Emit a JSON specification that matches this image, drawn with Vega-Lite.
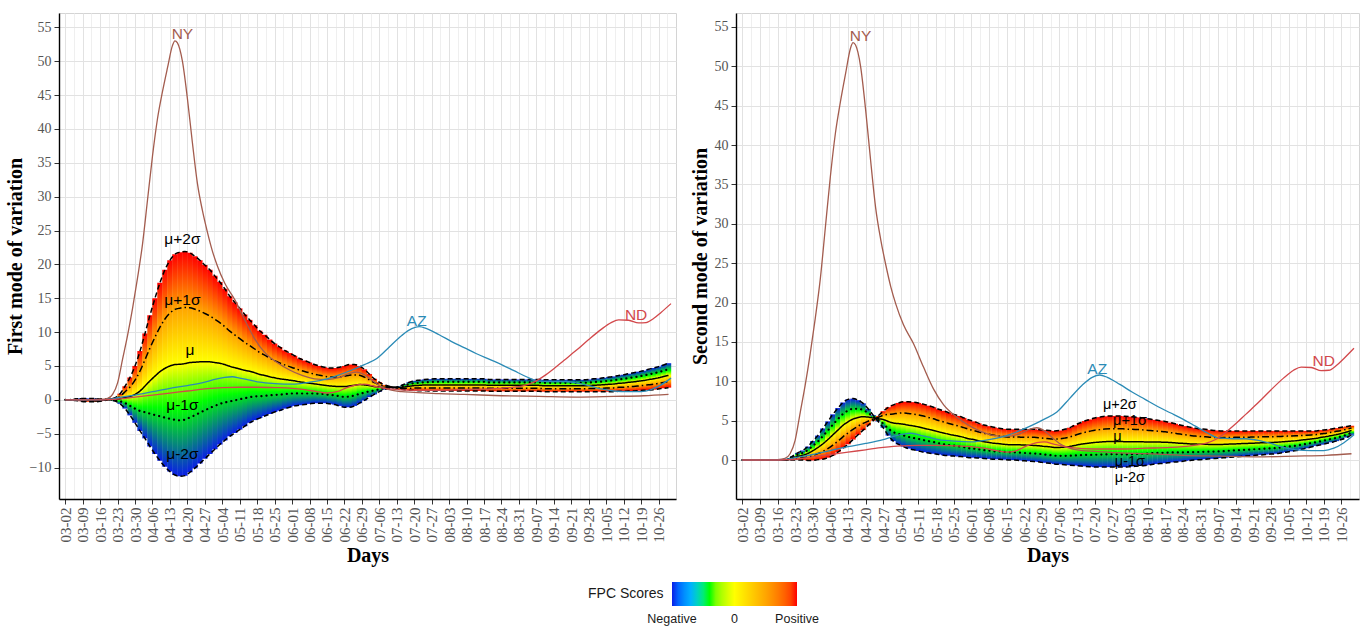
{
  "$schema": "https://vega.github.io/schema/vega-lite/v6.json",
  "background": "white",
  "padding": {"left": 4, "top": 12, "right": 6, "bottom": 0},
  "config": {
    "view": {"stroke": "#d4d4d4", "strokeWidth": 1},
    "axis": {
      "domainColor": "#000000", "domainWidth": 1.4, "tickColor": "#333333", "tickWidth": 1,
      "labelFont": "Liberation Serif", "labelColor": "#555555", "labelFontSize": 14,
      "titleFont": "Liberation Serif", "titleFontWeight": "bold", "titleFontSize": 20, "titleColor": "#000000",
      "labelFlush": false, "labelOverlap": false
    },
    "concat": {"spacing": 12}
  },
  "resolve": {"scale": {"stroke": "shared", "color": "shared"}, "legend": {"stroke": "shared"}},
  "datasets": {
    "mode1": [
      {"d":"2020-03-02","p2":0,"p1":0,"mu":0,"m1":0,"m2":0},
      {"d":"2020-03-04","p2":0,"p1":0,"mu":0,"m1":0,"m2":0},
      {"d":"2020-03-06","p2":-0.1,"p1":-0.05,"mu":0,"m1":0.05,"m2":0.1},
      {"d":"2020-03-08","p2":-0.2,"p1":-0.1,"mu":0,"m1":0.1,"m2":0.2},
      {"d":"2020-03-10","p2":-0.3,"p1":-0.18,"mu":-0.05,"m1":0.08,"m2":0.2},
      {"d":"2020-03-12","p2":-0.3,"p1":-0.18,"mu":-0.05,"m1":0.08,"m2":0.2},
      {"d":"2020-03-14","p2":-0.3,"p1":-0.18,"mu":-0.05,"m1":0.08,"m2":0.2},
      {"d":"2020-03-16","p2":-0.2,"p1":-0.13,"mu":-0.05,"m1":0.03,"m2":0.1},
      {"d":"2020-03-18","p2":-0.1,"p1":-0.05,"mu":0,"m1":0.05,"m2":0.1},
      {"d":"2020-03-20","p2":0.1,"p1":0.08,"mu":0.05,"m1":0.02,"m2":0},
      {"d":"2020-03-22","p2":0.3,"p1":0.18,"mu":0.05,"m1":-0.08,"m2":-0.2},
      {"d":"2020-03-24","p2":0.9,"p1":0.53,"mu":0.15,"m1":-0.23,"m2":-0.6},
      {"d":"2020-03-26","p2":2.0,"p1":1.18,"mu":0.35,"m1":-0.48,"m2":-1.3},
      {"d":"2020-03-28","p2":3.3,"p1":1.9,"mu":0.5,"m1":-0.9,"m2":-2.3},
      {"d":"2020-03-30","p2":5.0,"p1":2.9,"mu":0.8,"m1":-1.3,"m2":-3.4},
      {"d":"2020-04-01","p2":7.2,"p1":4.25,"mu":1.3,"m1":-1.65,"m2":-4.6},
      {"d":"2020-04-03","p2":9.8,"p1":5.93,"mu":2.05,"m1":-1.83,"m2":-5.7},
      {"d":"2020-04-05","p2":12.5,"p1":7.65,"mu":2.8,"m1":-2.05,"m2":-6.9},
      {"d":"2020-04-07","p2":15.0,"p1":9.25,"mu":3.5,"m1":-2.25,"m2":-8.0},
      {"d":"2020-04-09","p2":17.3,"p1":10.73,"mu":4.15,"m1":-2.43,"m2":-9.0},
      {"d":"2020-04-11","p2":19.2,"p1":11.93,"mu":4.65,"m1":-2.63,"m2":-9.9},
      {"d":"2020-04-13","p2":20.6,"p1":12.8,"mu":5.0,"m1":-2.8,"m2":-10.6},
      {"d":"2020-04-15","p2":21.5,"p1":13.35,"mu":5.2,"m1":-2.95,"m2":-11.1},
      {"d":"2020-04-17","p2":21.8,"p1":13.53,"mu":5.25,"m1":-3.03,"m2":-11.3},
      {"d":"2020-04-19","p2":21.9,"p1":13.63,"mu":5.35,"m1":-2.93,"m2":-11.2},
      {"d":"2020-04-21","p2":21.7,"p1":13.6,"mu":5.5,"m1":-2.6,"m2":-10.7},
      {"d":"2020-04-23","p2":21.2,"p1":13.38,"mu":5.55,"m1":-2.28,"m2":-10.1},
      {"d":"2020-04-25","p2":20.6,"p1":13.1,"mu":5.6,"m1":-1.9,"m2":-9.4},
      {"d":"2020-04-27","p2":19.9,"p1":12.75,"mu":5.6,"m1":-1.55,"m2":-8.7},
      {"d":"2020-04-29","p2":19.2,"p1":12.4,"mu":5.6,"m1":-1.2,"m2":-8.0},
      {"d":"2020-05-01","p2":18.3,"p1":11.9,"mu":5.5,"m1":-0.9,"m2":-7.3},
      {"d":"2020-05-03","p2":17.4,"p1":11.4,"mu":5.4,"m1":-0.6,"m2":-6.6},
      {"d":"2020-05-05","p2":16.4,"p1":10.8,"mu":5.2,"m1":-0.4,"m2":-6.0},
      {"d":"2020-05-07","p2":15.3,"p1":10.13,"mu":4.95,"m1":-0.23,"m2":-5.4},
      {"d":"2020-05-09","p2":14.4,"p1":9.58,"mu":4.75,"m1":-0.08,"m2":-4.9},
      {"d":"2020-05-11","p2":13.5,"p1":9.03,"mu":4.55,"m1":0.08,"m2":-4.4},
      {"d":"2020-05-13","p2":12.6,"p1":8.48,"mu":4.35,"m1":0.23,"m2":-3.9},
      {"d":"2020-05-15","p2":11.8,"p1":8.0,"mu":4.2,"m1":0.4,"m2":-3.4},
      {"d":"2020-05-17","p2":11.0,"p1":7.5,"mu":4.0,"m1":0.5,"m2":-3.0},
      {"d":"2020-05-19","p2":10.2,"p1":6.98,"mu":3.75,"m1":0.53,"m2":-2.7},
      {"d":"2020-05-21","p2":9.6,"p1":6.6,"mu":3.6,"m1":0.6,"m2":-2.4},
      {"d":"2020-05-23","p2":8.9,"p1":6.15,"mu":3.4,"m1":0.65,"m2":-2.1},
      {"d":"2020-05-25","p2":8.3,"p1":5.78,"mu":3.25,"m1":0.73,"m2":-1.8},
      {"d":"2020-05-27","p2":7.8,"p1":5.45,"mu":3.1,"m1":0.75,"m2":-1.6},
      {"d":"2020-05-29","p2":7.3,"p1":5.15,"mu":3.0,"m1":0.85,"m2":-1.3},
      {"d":"2020-05-31","p2":6.9,"p1":4.9,"mu":2.9,"m1":0.9,"m2":-1.1},
      {"d":"2020-06-02","p2":6.5,"p1":4.65,"mu":2.8,"m1":0.95,"m2":-0.9},
      {"d":"2020-06-04","p2":6.1,"p1":4.38,"mu":2.65,"m1":0.93,"m2":-0.8},
      {"d":"2020-06-06","p2":5.8,"p1":4.18,"mu":2.55,"m1":0.93,"m2":-0.7},
      {"d":"2020-06-08","p2":5.5,"p1":3.98,"mu":2.45,"m1":0.93,"m2":-0.6},
      {"d":"2020-06-10","p2":5.2,"p1":3.78,"mu":2.35,"m1":0.93,"m2":-0.5},
      {"d":"2020-06-12","p2":5.0,"p1":3.63,"mu":2.25,"m1":0.88,"m2":-0.5},
      {"d":"2020-06-14","p2":4.8,"p1":3.48,"mu":2.15,"m1":0.83,"m2":-0.5},
      {"d":"2020-06-16","p2":4.7,"p1":3.38,"mu":2.05,"m1":0.73,"m2":-0.6},
      {"d":"2020-06-18","p2":4.7,"p1":3.35,"mu":2.0,"m1":0.65,"m2":-0.7},
      {"d":"2020-06-20","p2":4.8,"p1":3.38,"mu":1.95,"m1":0.53,"m2":-0.9},
      {"d":"2020-06-22","p2":5.0,"p1":3.48,"mu":1.95,"m1":0.43,"m2":-1.1},
      {"d":"2020-06-24","p2":5.2,"p1":3.63,"mu":2.05,"m1":0.48,"m2":-1.1},
      {"d":"2020-06-26","p2":5.2,"p1":3.68,"mu":2.15,"m1":0.63,"m2":-0.9},
      {"d":"2020-06-28","p2":5.0,"p1":3.63,"mu":2.25,"m1":0.88,"m2":-0.5},
      {"d":"2020-06-30","p2":4.5,"p1":3.35,"mu":2.2,"m1":1.05,"m2":-0.1},
      {"d":"2020-07-02","p2":3.8,"p1":2.95,"mu":2.1,"m1":1.25,"m2":0.4},
      {"d":"2020-07-04","p2":3.1,"p1":2.53,"mu":1.95,"m1":1.38,"m2":0.8},
      {"d":"2020-07-06","p2":2.6,"p1":2.25,"mu":1.9,"m1":1.55,"m2":1.2},
      {"d":"2020-07-08","p2":2.2,"p1":2.03,"mu":1.85,"m1":1.68,"m2":1.5},
      {"d":"2020-07-10","p2":2.0,"p1":1.93,"mu":1.85,"m1":1.78,"m2":1.7},
      {"d":"2020-07-12","p2":1.85,"p1":1.84,"mu":1.83,"m1":1.81,"m2":1.8},
      {"d":"2020-07-14","p2":1.6,"p1":1.7,"mu":1.8,"m1":1.9,"m2":2.0},
      {"d":"2020-07-16","p2":1.5,"p1":1.7,"mu":1.9,"m1":2.1,"m2":2.3},
      {"d":"2020-07-18","p2":1.4,"p1":1.7,"mu":2.0,"m1":2.3,"m2":2.6},
      {"d":"2020-07-20","p2":1.4,"p1":1.75,"mu":2.1,"m1":2.45,"m2":2.8},
      {"d":"2020-07-22","p2":1.35,"p1":1.74,"mu":2.13,"m1":2.51,"m2":2.9},
      {"d":"2020-07-24","p2":1.35,"p1":1.76,"mu":2.18,"m1":2.59,"m2":3.0},
      {"d":"2020-07-26","p2":1.3,"p1":1.74,"mu":2.18,"m1":2.61,"m2":3.05},
      {"d":"2020-07-28","p2":1.3,"p1":1.75,"mu":2.2,"m1":2.65,"m2":3.1},
      {"d":"2020-07-30","p2":1.3,"p1":1.75,"mu":2.2,"m1":2.65,"m2":3.1},
      {"d":"2020-08-01","p2":1.3,"p1":1.75,"mu":2.2,"m1":2.65,"m2":3.1},
      {"d":"2020-08-03","p2":1.3,"p1":1.75,"mu":2.2,"m1":2.65,"m2":3.1},
      {"d":"2020-08-05","p2":1.3,"p1":1.75,"mu":2.2,"m1":2.65,"m2":3.1},
      {"d":"2020-08-07","p2":1.3,"p1":1.75,"mu":2.2,"m1":2.65,"m2":3.1},
      {"d":"2020-08-09","p2":1.3,"p1":1.75,"mu":2.2,"m1":2.65,"m2":3.1},
      {"d":"2020-08-11","p2":1.3,"p1":1.75,"mu":2.2,"m1":2.65,"m2":3.1},
      {"d":"2020-08-13","p2":1.3,"p1":1.75,"mu":2.2,"m1":2.65,"m2":3.1},
      {"d":"2020-08-15","p2":1.3,"p1":1.75,"mu":2.2,"m1":2.65,"m2":3.1},
      {"d":"2020-08-17","p2":1.3,"p1":1.75,"mu":2.2,"m1":2.65,"m2":3.1},
      {"d":"2020-08-19","p2":1.25,"p1":1.69,"mu":2.13,"m1":2.56,"m2":3.0},
      {"d":"2020-08-21","p2":1.25,"p1":1.69,"mu":2.13,"m1":2.56,"m2":3.0},
      {"d":"2020-08-23","p2":1.25,"p1":1.69,"mu":2.13,"m1":2.56,"m2":3.0},
      {"d":"2020-08-25","p2":1.25,"p1":1.69,"mu":2.13,"m1":2.56,"m2":3.0},
      {"d":"2020-08-27","p2":1.25,"p1":1.69,"mu":2.13,"m1":2.56,"m2":3.0},
      {"d":"2020-08-29","p2":1.25,"p1":1.69,"mu":2.13,"m1":2.56,"m2":3.0},
      {"d":"2020-08-31","p2":1.25,"p1":1.69,"mu":2.13,"m1":2.56,"m2":3.0},
      {"d":"2020-09-02","p2":1.25,"p1":1.69,"mu":2.13,"m1":2.56,"m2":3.0},
      {"d":"2020-09-04","p2":1.25,"p1":1.69,"mu":2.13,"m1":2.56,"m2":3.0},
      {"d":"2020-09-06","p2":1.25,"p1":1.69,"mu":2.13,"m1":2.56,"m2":3.0},
      {"d":"2020-09-08","p2":1.25,"p1":1.69,"mu":2.13,"m1":2.56,"m2":3.0},
      {"d":"2020-09-10","p2":1.2,"p1":1.64,"mu":2.08,"m1":2.51,"m2":2.95},
      {"d":"2020-09-12","p2":1.2,"p1":1.64,"mu":2.08,"m1":2.51,"m2":2.95},
      {"d":"2020-09-14","p2":1.2,"p1":1.64,"mu":2.08,"m1":2.51,"m2":2.95},
      {"d":"2020-09-16","p2":1.2,"p1":1.64,"mu":2.08,"m1":2.51,"m2":2.95},
      {"d":"2020-09-18","p2":1.2,"p1":1.64,"mu":2.08,"m1":2.51,"m2":2.95},
      {"d":"2020-09-20","p2":1.2,"p1":1.64,"mu":2.08,"m1":2.51,"m2":2.95},
      {"d":"2020-09-22","p2":1.2,"p1":1.64,"mu":2.08,"m1":2.51,"m2":2.95},
      {"d":"2020-09-24","p2":1.2,"p1":1.64,"mu":2.08,"m1":2.51,"m2":2.95},
      {"d":"2020-09-26","p2":1.2,"p1":1.64,"mu":2.08,"m1":2.51,"m2":2.95},
      {"d":"2020-09-28","p2":1.2,"p1":1.65,"mu":2.1,"m1":2.55,"m2":3.0},
      {"d":"2020-09-30","p2":1.2,"p1":1.68,"mu":2.15,"m1":2.63,"m2":3.1},
      {"d":"2020-10-02","p2":1.2,"p1":1.69,"mu":2.18,"m1":2.66,"m2":3.15},
      {"d":"2020-10-04","p2":1.2,"p1":1.71,"mu":2.23,"m1":2.74,"m2":3.25},
      {"d":"2020-10-06","p2":1.2,"p1":1.74,"mu":2.28,"m1":2.81,"m2":3.35},
      {"d":"2020-10-08","p2":1.2,"p1":1.76,"mu":2.33,"m1":2.89,"m2":3.45},
      {"d":"2020-10-10","p2":1.25,"p1":1.84,"mu":2.43,"m1":3.01,"m2":3.6},
      {"d":"2020-10-12","p2":1.25,"p1":1.86,"mu":2.48,"m1":3.09,"m2":3.7},
      {"d":"2020-10-14","p2":1.3,"p1":1.94,"mu":2.58,"m1":3.21,"m2":3.85},
      {"d":"2020-10-16","p2":1.3,"p1":1.98,"mu":2.65,"m1":3.33,"m2":4.0},
      {"d":"2020-10-18","p2":1.35,"p1":2.05,"mu":2.75,"m1":3.45,"m2":4.15},
      {"d":"2020-10-20","p2":1.4,"p1":2.13,"mu":2.85,"m1":3.58,"m2":4.3},
      {"d":"2020-10-22","p2":1.45,"p1":2.21,"mu":2.98,"m1":3.74,"m2":4.5},
      {"d":"2020-10-24","p2":1.5,"p1":2.3,"mu":3.1,"m1":3.9,"m2":4.7},
      {"d":"2020-10-26","p2":1.6,"p1":2.43,"mu":3.25,"m1":4.08,"m2":4.9},
      {"d":"2020-10-28","p2":1.7,"p1":2.56,"mu":3.43,"m1":4.29,"m2":5.15},
      {"d":"2020-10-30","p2":1.8,"p1":2.7,"mu":3.6,"m1":4.5,"m2":5.4}
    ],
    "mode2": [
      {"d":"2020-03-02","p2":0,"p1":0,"mu":0,"m1":0,"m2":0},
      {"d":"2020-03-04","p2":0,"p1":0,"mu":0,"m1":0,"m2":0},
      {"d":"2020-03-06","p2":0,"p1":0,"mu":0,"m1":0,"m2":0},
      {"d":"2020-03-08","p2":0,"p1":0,"mu":0,"m1":0,"m2":0},
      {"d":"2020-03-10","p2":0,"p1":0,"mu":0,"m1":0,"m2":0},
      {"d":"2020-03-12","p2":0,"p1":0,"mu":0,"m1":0,"m2":0},
      {"d":"2020-03-14","p2":0,"p1":0,"mu":0,"m1":0,"m2":0},
      {"d":"2020-03-16","p2":0,"p1":0,"mu":0,"m1":0,"m2":0},
      {"d":"2020-03-18","p2":0,"p1":0,"mu":0,"m1":0,"m2":0},
      {"d":"2020-03-20","p2":0,"p1":0.02,"mu":0.05,"m1":0.08,"m2":0.1},
      {"d":"2020-03-22","p2":0,"p1":0.12,"mu":0.25,"m1":0.38,"m2":0.5},
      {"d":"2020-03-24","p2":0,"p1":0.22,"mu":0.45,"m1":0.68,"m2":0.9},
      {"d":"2020-03-26","p2":0,"p1":0.3,"mu":0.6,"m1":0.9,"m2":1.2},
      {"d":"2020-03-28","p2":-0.05,"p1":0.39,"mu":0.83,"m1":1.26,"m2":1.7},
      {"d":"2020-03-30","p2":-0.05,"p1":0.56,"mu":1.18,"m1":1.79,"m2":2.4},
      {"d":"2020-04-01","p2":0.05,"p1":0.81,"mu":1.58,"m1":2.34,"m2":3.1},
      {"d":"2020-04-03","p2":0.1,"p1":1.08,"mu":2.05,"m1":3.03,"m2":4.0},
      {"d":"2020-04-05","p2":0.3,"p1":1.45,"mu":2.6,"m1":3.75,"m2":4.9},
      {"d":"2020-04-07","p2":0.6,"p1":1.9,"mu":3.2,"m1":4.5,"m2":5.8},
      {"d":"2020-04-09","p2":1.0,"p1":2.4,"mu":3.8,"m1":5.2,"m2":6.6},
      {"d":"2020-04-11","p2":1.5,"p1":2.95,"mu":4.4,"m1":5.85,"m2":7.3},
      {"d":"2020-04-13","p2":2.0,"p1":3.43,"mu":4.85,"m1":6.28,"m2":7.7},
      {"d":"2020-04-15","p2":2.6,"p1":3.9,"mu":5.2,"m1":6.5,"m2":7.8},
      {"d":"2020-04-17","p2":3.2,"p1":4.3,"mu":5.4,"m1":6.5,"m2":7.6},
      {"d":"2020-04-19","p2":3.8,"p1":4.65,"mu":5.5,"m1":6.35,"m2":7.2},
      {"d":"2020-04-21","p2":4.4,"p1":4.93,"mu":5.45,"m1":5.98,"m2":6.5},
      {"d":"2020-04-23","p2":5.0,"p1":5.18,"mu":5.35,"m1":5.53,"m2":5.7},
      {"d":"2020-04-25","p2":5.6,"p1":5.43,"mu":5.25,"m1":5.08,"m2":4.9},
      {"d":"2020-04-27","p2":6.2,"p1":5.68,"mu":5.15,"m1":4.63,"m2":4.1},
      {"d":"2020-04-29","p2":6.7,"p1":5.8,"mu":4.9,"m1":4.0,"m2":3.1},
      {"d":"2020-05-01","p2":7.0,"p1":5.85,"mu":4.7,"m1":3.55,"m2":2.4},
      {"d":"2020-05-03","p2":7.25,"p1":5.94,"mu":4.63,"m1":3.31,"m2":2.0},
      {"d":"2020-05-05","p2":7.4,"p1":5.98,"mu":4.55,"m1":3.13,"m2":1.7},
      {"d":"2020-05-07","p2":7.4,"p1":5.91,"mu":4.43,"m1":2.94,"m2":1.45},
      {"d":"2020-05-09","p2":7.35,"p1":5.84,"mu":4.33,"m1":2.81,"m2":1.3},
      {"d":"2020-05-11","p2":7.25,"p1":5.73,"mu":4.2,"m1":2.68,"m2":1.15},
      {"d":"2020-05-13","p2":7.1,"p1":5.58,"mu":4.05,"m1":2.53,"m2":1.0},
      {"d":"2020-05-15","p2":6.9,"p1":5.4,"mu":3.9,"m1":2.4,"m2":0.9},
      {"d":"2020-05-17","p2":6.7,"p1":5.23,"mu":3.75,"m1":2.28,"m2":0.8},
      {"d":"2020-05-19","p2":6.45,"p1":5.01,"mu":3.58,"m1":2.14,"m2":0.7},
      {"d":"2020-05-21","p2":6.25,"p1":4.84,"mu":3.43,"m1":2.01,"m2":0.6},
      {"d":"2020-05-23","p2":6.0,"p1":4.64,"mu":3.28,"m1":1.91,"m2":0.55},
      {"d":"2020-05-25","p2":5.8,"p1":4.48,"mu":3.15,"m1":1.83,"m2":0.5},
      {"d":"2020-05-27","p2":5.6,"p1":4.31,"mu":3.03,"m1":1.74,"m2":0.45},
      {"d":"2020-05-29","p2":5.35,"p1":4.11,"mu":2.88,"m1":1.64,"m2":0.4},
      {"d":"2020-05-31","p2":5.1,"p1":3.9,"mu":2.7,"m1":1.5,"m2":0.3},
      {"d":"2020-06-02","p2":4.9,"p1":3.75,"mu":2.6,"m1":1.45,"m2":0.3},
      {"d":"2020-06-04","p2":4.65,"p1":3.55,"mu":2.45,"m1":1.35,"m2":0.25},
      {"d":"2020-06-06","p2":4.45,"p1":3.39,"mu":2.33,"m1":1.26,"m2":0.2},
      {"d":"2020-06-08","p2":4.3,"p1":3.26,"mu":2.23,"m1":1.19,"m2":0.15},
      {"d":"2020-06-10","p2":4.15,"p1":3.14,"mu":2.13,"m1":1.11,"m2":0.1},
      {"d":"2020-06-12","p2":4.05,"p1":3.06,"mu":2.08,"m1":1.09,"m2":0.1},
      {"d":"2020-06-14","p2":3.95,"p1":2.98,"mu":2.0,"m1":1.03,"m2":0.05},
      {"d":"2020-06-16","p2":3.9,"p1":2.93,"mu":1.95,"m1":0.98,"m2":0},
      {"d":"2020-06-18","p2":3.9,"p1":2.93,"mu":1.95,"m1":0.98,"m2":0},
      {"d":"2020-06-20","p2":3.9,"p1":2.91,"mu":1.93,"m1":0.94,"m2":-0.05},
      {"d":"2020-06-22","p2":3.9,"p1":2.9,"mu":1.9,"m1":0.9,"m2":-0.1},
      {"d":"2020-06-24","p2":3.9,"p1":2.89,"mu":1.88,"m1":0.86,"m2":-0.15},
      {"d":"2020-06-26","p2":3.9,"p1":2.88,"mu":1.85,"m1":0.83,"m2":-0.2},
      {"d":"2020-06-28","p2":3.85,"p1":2.83,"mu":1.8,"m1":0.78,"m2":-0.25},
      {"d":"2020-06-30","p2":3.8,"p1":2.76,"mu":1.73,"m1":0.69,"m2":-0.35},
      {"d":"2020-07-02","p2":3.75,"p1":2.71,"mu":1.68,"m1":0.64,"m2":-0.4},
      {"d":"2020-07-04","p2":3.7,"p1":2.65,"mu":1.6,"m1":0.55,"m2":-0.5},
      {"d":"2020-07-06","p2":3.75,"p1":2.68,"mu":1.6,"m1":0.53,"m2":-0.55},
      {"d":"2020-07-08","p2":3.9,"p1":2.78,"mu":1.65,"m1":0.53,"m2":-0.6},
      {"d":"2020-07-10","p2":4.1,"p1":2.91,"mu":1.73,"m1":0.54,"m2":-0.65},
      {"d":"2020-07-12","p2":4.4,"p1":3.13,"mu":1.85,"m1":0.58,"m2":-0.7},
      {"d":"2020-07-14","p2":4.7,"p1":3.34,"mu":1.98,"m1":0.61,"m2":-0.75},
      {"d":"2020-07-16","p2":4.95,"p1":3.51,"mu":2.08,"m1":0.64,"m2":-0.8},
      {"d":"2020-07-18","p2":5.15,"p1":3.65,"mu":2.15,"m1":0.65,"m2":-0.85},
      {"d":"2020-07-20","p2":5.35,"p1":3.79,"mu":2.23,"m1":0.66,"m2":-0.9},
      {"d":"2020-07-22","p2":5.45,"p1":3.86,"mu":2.28,"m1":0.69,"m2":-0.9},
      {"d":"2020-07-24","p2":5.55,"p1":3.94,"mu":2.33,"m1":0.71,"m2":-0.9},
      {"d":"2020-07-26","p2":5.6,"p1":3.98,"mu":2.35,"m1":0.73,"m2":-0.9},
      {"d":"2020-07-28","p2":5.6,"p1":3.98,"mu":2.35,"m1":0.73,"m2":-0.9},
      {"d":"2020-07-30","p2":5.6,"p1":3.98,"mu":2.35,"m1":0.73,"m2":-0.9},
      {"d":"2020-08-01","p2":5.55,"p1":3.94,"mu":2.33,"m1":0.71,"m2":-0.9},
      {"d":"2020-08-03","p2":5.5,"p1":3.91,"mu":2.33,"m1":0.74,"m2":-0.85},
      {"d":"2020-08-05","p2":5.45,"p1":3.89,"mu":2.33,"m1":0.76,"m2":-0.8},
      {"d":"2020-08-07","p2":5.4,"p1":3.86,"mu":2.33,"m1":0.79,"m2":-0.75},
      {"d":"2020-08-09","p2":5.3,"p1":3.8,"mu":2.3,"m1":0.8,"m2":-0.7},
      {"d":"2020-08-11","p2":5.2,"p1":3.75,"mu":2.3,"m1":0.85,"m2":-0.6},
      {"d":"2020-08-13","p2":5.1,"p1":3.7,"mu":2.3,"m1":0.9,"m2":-0.5},
      {"d":"2020-08-15","p2":5.0,"p1":3.64,"mu":2.28,"m1":0.91,"m2":-0.45},
      {"d":"2020-08-17","p2":4.9,"p1":3.58,"mu":2.25,"m1":0.93,"m2":-0.4},
      {"d":"2020-08-19","p2":4.75,"p1":3.49,"mu":2.23,"m1":0.96,"m2":-0.3},
      {"d":"2020-08-21","p2":4.6,"p1":3.39,"mu":2.18,"m1":0.96,"m2":-0.25},
      {"d":"2020-08-23","p2":4.45,"p1":3.29,"mu":2.13,"m1":0.96,"m2":-0.2},
      {"d":"2020-08-25","p2":4.3,"p1":3.2,"mu":2.1,"m1":1.0,"m2":-0.1},
      {"d":"2020-08-27","p2":4.15,"p1":3.1,"mu":2.05,"m1":1.0,"m2":-0.05},
      {"d":"2020-08-29","p2":4.05,"p1":3.04,"mu":2.03,"m1":1.01,"m2":0},
      {"d":"2020-08-31","p2":3.95,"p1":2.98,"mu":2.0,"m1":1.03,"m2":0.05},
      {"d":"2020-09-02","p2":3.9,"p1":2.95,"mu":2.0,"m1":1.05,"m2":0.1},
      {"d":"2020-09-04","p2":3.8,"p1":2.89,"mu":1.98,"m1":1.06,"m2":0.15},
      {"d":"2020-09-06","p2":3.75,"p1":2.86,"mu":1.98,"m1":1.09,"m2":0.2},
      {"d":"2020-09-08","p2":3.7,"p1":2.84,"mu":1.98,"m1":1.11,"m2":0.25},
      {"d":"2020-09-10","p2":3.7,"p1":2.85,"mu":2.0,"m1":1.15,"m2":0.3},
      {"d":"2020-09-12","p2":3.7,"p1":2.86,"mu":2.03,"m1":1.19,"m2":0.35},
      {"d":"2020-09-14","p2":3.7,"p1":2.88,"mu":2.05,"m1":1.23,"m2":0.4},
      {"d":"2020-09-16","p2":3.7,"p1":2.89,"mu":2.08,"m1":1.26,"m2":0.45},
      {"d":"2020-09-18","p2":3.7,"p1":2.9,"mu":2.1,"m1":1.3,"m2":0.5},
      {"d":"2020-09-20","p2":3.7,"p1":2.91,"mu":2.13,"m1":1.34,"m2":0.55},
      {"d":"2020-09-22","p2":3.7,"p1":2.93,"mu":2.15,"m1":1.38,"m2":0.6},
      {"d":"2020-09-24","p2":3.7,"p1":2.94,"mu":2.18,"m1":1.41,"m2":0.65},
      {"d":"2020-09-26","p2":3.7,"p1":2.95,"mu":2.2,"m1":1.45,"m2":0.7},
      {"d":"2020-09-28","p2":3.7,"p1":2.96,"mu":2.23,"m1":1.49,"m2":0.75},
      {"d":"2020-09-30","p2":3.7,"p1":2.98,"mu":2.25,"m1":1.53,"m2":0.8},
      {"d":"2020-10-02","p2":3.7,"p1":3.0,"mu":2.3,"m1":1.6,"m2":0.9},
      {"d":"2020-10-04","p2":3.7,"p1":3.03,"mu":2.35,"m1":1.68,"m2":1.0},
      {"d":"2020-10-06","p2":3.7,"p1":3.05,"mu":2.4,"m1":1.75,"m2":1.1},
      {"d":"2020-10-08","p2":3.7,"p1":3.08,"mu":2.45,"m1":1.83,"m2":1.2},
      {"d":"2020-10-10","p2":3.7,"p1":3.11,"mu":2.53,"m1":1.94,"m2":1.35},
      {"d":"2020-10-12","p2":3.7,"p1":3.15,"mu":2.6,"m1":2.05,"m2":1.5},
      {"d":"2020-10-14","p2":3.7,"p1":3.19,"mu":2.68,"m1":2.16,"m2":1.65},
      {"d":"2020-10-16","p2":3.7,"p1":3.23,"mu":2.75,"m1":2.28,"m2":1.8},
      {"d":"2020-10-18","p2":3.8,"p1":3.34,"mu":2.88,"m1":2.41,"m2":1.95},
      {"d":"2020-10-20","p2":3.85,"p1":3.41,"mu":2.98,"m1":2.54,"m2":2.1},
      {"d":"2020-10-22","p2":3.95,"p1":3.53,"mu":3.1,"m1":2.68,"m2":2.25},
      {"d":"2020-10-24","p2":4.05,"p1":3.64,"mu":3.23,"m1":2.81,"m2":2.4},
      {"d":"2020-10-26","p2":4.15,"p1":3.76,"mu":3.38,"m1":2.99,"m2":2.6},
      {"d":"2020-10-28","p2":4.25,"p1":3.9,"mu":3.55,"m1":3.2,"m2":2.85},
      {"d":"2020-10-30","p2":4.35,"p1":4.06,"mu":3.78,"m1":3.49,"m2":3.2}
    ],
    "states": [
      {"state":"NY","d":"2020-03-02","v":0},{"state":"NY","d":"2020-03-09","v":0},{"state":"NY","d":"2020-03-16","v":0.05},
      {"state":"NY","d":"2020-03-19","v":0.2},{"state":"NY","d":"2020-03-21","v":0.8},{"state":"NY","d":"2020-03-23","v":2.5},
      {"state":"NY","d":"2020-03-25","v":6},{"state":"NY","d":"2020-03-27","v":9.5},{"state":"NY","d":"2020-03-29","v":13.5},
      {"state":"NY","d":"2020-03-31","v":18},{"state":"NY","d":"2020-04-02","v":23},{"state":"NY","d":"2020-04-04","v":29.5},
      {"state":"NY","d":"2020-04-06","v":36},{"state":"NY","d":"2020-04-08","v":41.5},{"state":"NY","d":"2020-04-10","v":45.5},
      {"state":"NY","d":"2020-04-12","v":49},{"state":"NY","d":"2020-04-14","v":52.3},{"state":"NY","d":"2020-04-15","v":53},
      {"state":"NY","d":"2020-04-16","v":52.7},{"state":"NY","d":"2020-04-18","v":50},{"state":"NY","d":"2020-04-20","v":44.5},
      {"state":"NY","d":"2020-04-22","v":38},{"state":"NY","d":"2020-04-24","v":32},{"state":"NY","d":"2020-04-26","v":28},
      {"state":"NY","d":"2020-04-28","v":24.8},{"state":"NY","d":"2020-04-30","v":22},{"state":"NY","d":"2020-05-02","v":19.8},
      {"state":"NY","d":"2020-05-05","v":17.2},{"state":"NY","d":"2020-05-09","v":14.8},{"state":"NY","d":"2020-05-13","v":11.8},
      {"state":"NY","d":"2020-05-17","v":9.0},{"state":"NY","d":"2020-05-21","v":7.0},{"state":"NY","d":"2020-05-26","v":5.5},
      {"state":"NY","d":"2020-05-31","v":4.4},{"state":"NY","d":"2020-06-05","v":3.6},{"state":"NY","d":"2020-06-10","v":3.1},
      {"state":"NY","d":"2020-06-15","v":3.0},{"state":"NY","d":"2020-06-20","v":3.3},{"state":"NY","d":"2020-06-24","v":3.9},
      {"state":"NY","d":"2020-06-27","v":4.1},{"state":"NY","d":"2020-06-30","v":3.7},{"state":"NY","d":"2020-07-03","v":2.9},
      {"state":"NY","d":"2020-07-06","v":2.1},{"state":"NY","d":"2020-07-10","v":1.5},{"state":"NY","d":"2020-07-15","v":1.2},
      {"state":"NY","d":"2020-07-20","v":1.1},{"state":"NY","d":"2020-07-30","v":0.9},{"state":"NY","d":"2020-08-09","v":0.8},
      {"state":"NY","d":"2020-08-24","v":0.6},{"state":"NY","d":"2020-09-08","v":0.5},{"state":"NY","d":"2020-09-23","v":0.4},
      {"state":"NY","d":"2020-10-08","v":0.5},{"state":"NY","d":"2020-10-20","v":0.6},{"state":"NY","d":"2020-10-30","v":0.8},
      {"state":"AZ","d":"2020-03-02","v":0},{"state":"AZ","d":"2020-03-16","v":0},{"state":"AZ","d":"2020-03-20","v":0.1},
      {"state":"AZ","d":"2020-03-23","v":0.3},{"state":"AZ","d":"2020-03-30","v":0.7},{"state":"AZ","d":"2020-04-06","v":1.2},
      {"state":"AZ","d":"2020-04-13","v":1.7},{"state":"AZ","d":"2020-04-20","v":2.1},{"state":"AZ","d":"2020-04-27","v":2.6},
      {"state":"AZ","d":"2020-05-01","v":3.0},{"state":"AZ","d":"2020-05-05","v":3.3},{"state":"AZ","d":"2020-05-08","v":3.4},
      {"state":"AZ","d":"2020-05-11","v":3.2},{"state":"AZ","d":"2020-05-15","v":2.9},{"state":"AZ","d":"2020-05-19","v":2.6},
      {"state":"AZ","d":"2020-05-25","v":2.4},{"state":"AZ","d":"2020-06-01","v":2.3},{"state":"AZ","d":"2020-06-08","v":2.6},
      {"state":"AZ","d":"2020-06-15","v":3.1},{"state":"AZ","d":"2020-06-20","v":3.7},{"state":"AZ","d":"2020-06-25","v":4.4},
      {"state":"AZ","d":"2020-06-30","v":5.2},{"state":"AZ","d":"2020-07-05","v":6.1},{"state":"AZ","d":"2020-07-10","v":7.8},
      {"state":"AZ","d":"2020-07-15","v":9.5},{"state":"AZ","d":"2020-07-19","v":10.5},{"state":"AZ","d":"2020-07-22","v":10.8},
      {"state":"AZ","d":"2020-07-25","v":10.5},{"state":"AZ","d":"2020-07-30","v":9.6},{"state":"AZ","d":"2020-08-04","v":8.6},
      {"state":"AZ","d":"2020-08-09","v":7.7},{"state":"AZ","d":"2020-08-14","v":6.8},{"state":"AZ","d":"2020-08-19","v":6.0},
      {"state":"AZ","d":"2020-08-24","v":5.2},{"state":"AZ","d":"2020-08-29","v":4.3},{"state":"AZ","d":"2020-09-03","v":3.4},
      {"state":"AZ","d":"2020-09-07","v":2.8},{"state":"AZ","d":"2020-09-13","v":2.7},{"state":"AZ","d":"2020-09-18","v":2.7},
      {"state":"AZ","d":"2020-09-23","v":2.5},{"state":"AZ","d":"2020-09-28","v":2.1},{"state":"AZ","d":"2020-10-03","v":1.6},
      {"state":"AZ","d":"2020-10-08","v":1.3},{"state":"AZ","d":"2020-10-14","v":1.2},{"state":"AZ","d":"2020-10-19","v":1.2},
      {"state":"AZ","d":"2020-10-23","v":1.5},{"state":"AZ","d":"2020-10-27","v":2.2},{"state":"AZ","d":"2020-10-31","v":3.2},
      {"state":"ND","d":"2020-03-02","v":0},{"state":"ND","d":"2020-03-16","v":0},{"state":"ND","d":"2020-03-20","v":0.05},
      {"state":"ND","d":"2020-03-23","v":0.1},{"state":"ND","d":"2020-03-30","v":0.4},{"state":"ND","d":"2020-04-06","v":0.7},
      {"state":"ND","d":"2020-04-13","v":1.0},{"state":"ND","d":"2020-04-20","v":1.3},{"state":"ND","d":"2020-04-27","v":1.6},
      {"state":"ND","d":"2020-05-04","v":1.8},{"state":"ND","d":"2020-05-11","v":1.85},{"state":"ND","d":"2020-05-18","v":1.85},
      {"state":"ND","d":"2020-05-25","v":1.8},{"state":"ND","d":"2020-06-01","v":1.7},{"state":"ND","d":"2020-06-06","v":1.5},
      {"state":"ND","d":"2020-06-11","v":1.2},{"state":"ND","d":"2020-06-15","v":1.0},{"state":"ND","d":"2020-06-19","v":1.2},
      {"state":"ND","d":"2020-06-23","v":1.8},{"state":"ND","d":"2020-06-27","v":2.2},{"state":"ND","d":"2020-06-30","v":2.3},
      {"state":"ND","d":"2020-07-04","v":2.0},{"state":"ND","d":"2020-07-10","v":1.6},{"state":"ND","d":"2020-07-20","v":1.4},
      {"state":"ND","d":"2020-07-30","v":1.4},{"state":"ND","d":"2020-08-09","v":1.5},{"state":"ND","d":"2020-08-19","v":1.6},
      {"state":"ND","d":"2020-08-27","v":1.8},{"state":"ND","d":"2020-09-02","v":2.1},{"state":"ND","d":"2020-09-06","v":2.6},
      {"state":"ND","d":"2020-09-10","v":3.5},{"state":"ND","d":"2020-09-14","v":4.6},{"state":"ND","d":"2020-09-18","v":5.8},
      {"state":"ND","d":"2020-09-23","v":7.3},{"state":"ND","d":"2020-09-28","v":8.9},{"state":"ND","d":"2020-10-03","v":10.4},
      {"state":"ND","d":"2020-10-07","v":11.4},{"state":"ND","d":"2020-10-10","v":11.8},{"state":"ND","d":"2020-10-14","v":11.75},
      {"state":"ND","d":"2020-10-18","v":11.35},{"state":"ND","d":"2020-10-21","v":11.4},{"state":"ND","d":"2020-10-24","v":12.0},
      {"state":"ND","d":"2020-10-27","v":12.9},{"state":"ND","d":"2020-10-31","v":14.2}
    ],
    "labels": [
      {"panel":"First","kind":"state","state":"NY","label":"NY","d":"2020-04-18","v":54.0},
      {"panel":"First","kind":"state","state":"AZ","label":"AZ","d":"2020-07-21","v":11.6},
      {"panel":"First","kind":"state","state":"ND","label":"ND","d":"2020-10-17","v":12.5},
      {"panel":"First","kind":"sigma","sigma":2,"label":"μ+2σ","d":"2020-04-18","v":23.7},
      {"panel":"First","kind":"sigma","sigma":1,"label":"μ+1σ","d":"2020-04-18","v":14.7},
      {"panel":"First","kind":"sigma","sigma":0,"label":"μ","d":"2020-04-21","v":7.3},
      {"panel":"First","kind":"sigma","sigma":-1,"label":"μ-1σ","d":"2020-04-18","v":-0.7},
      {"panel":"First","kind":"sigma","sigma":-2,"label":"μ-2σ","d":"2020-04-18","v":-8.0},
      {"panel":"Second","kind":"state","state":"NY","label":"NY","d":"2020-04-18","v":53.9},
      {"panel":"Second","kind":"state","state":"AZ","label":"AZ","d":"2020-07-21","v":11.6},
      {"panel":"Second","kind":"state","state":"ND","label":"ND","d":"2020-10-19","v":12.6},
      {"panel":"Second","kind":"sigma","sigma":2,"label":"μ+2σ","d":"2020-07-30","v":7.05},
      {"panel":"Second","kind":"sigma","sigma":1,"label":"μ+1σ","d":"2020-08-03","v":4.9},
      {"panel":"Second","kind":"sigma","sigma":0,"label":"μ","d":"2020-07-29","v":2.95},
      {"panel":"Second","kind":"sigma","sigma":-1,"label":"μ-1σ","d":"2020-08-03","v":-0.3},
      {"panel":"Second","kind":"sigma","sigma":-2,"label":"μ-2σ","d":"2020-08-03","v":-2.3}
    ]
  },
  "hconcat": [
    {
      "width": 617,
      "height": 486,
      "resolve": {"axis": {"y": "independent"}},
      "encoding": {
        "x": {
          "field": "d", "type": "temporal", "title": "Days",
          "scale": {"type": "utc", "domain": [{"year": 2020, "month": 3, "date": 1, "hours": 12, "utc": true}, {"year": 2020, "month": 10, "date": 31, "utc": true}]},
          "axis": {
            "values": [1583107200000,1583409600000,1583712000000,1584014400000,1584316800000,1584619200000,1584921600000,1585224000000,1585526400000,1585828800000,1586131200000,1586433600000,1586736000000,1587038400000,1587340800000,1587643200000,1587945600000,1588248000000,1588550400000,1588852800000,1589155200000,1589457600000,1589760000000,1590062400000,1590364800000,1590667200000,1590969600000,1591272000000,1591574400000,1591876800000,1592179200000,1592481600000,1592784000000,1593086400000,1593388800000,1593691200000,1593993600000,1594296000000,1594598400000,1594900800000,1595203200000,1595505600000,1595808000000,1596110400000,1596412800000,1596715200000,1597017600000,1597320000000,1597622400000,1597924800000,1598227200000,1598529600000,1598832000000,1599134400000,1599436800000,1599739200000,1600041600000,1600344000000,1600646400000,1600948800000,1601251200000,1601553600000,1601856000000,1602158400000,1602460800000,1602763200000,1603065600000,1603368000000,1603670400000,1603972800000],
            "labelExpr": "utchours(datum.value) == 12 ? '' : utcFormat(datum.value, '%m-%d')",
            "labelAngle": 270, "labelFontSize": 15, "labelPadding": 3,
            "tickSize": {"condition": {"test": "utchours(datum.value) == 12", "value": 0}, "value": 5},
            "gridColor": {"condition": {"test": "utchours(datum.value) == 12", "value": "#efefef"}, "value": "#e2e2e2"},
            "titlePadding": 4
          }
        }
      },
      "layer": [
        {
          "data": {"name": "mode1"},
          "transform": [{"filter": "datum.p2 >= datum.m2"}],
          "mark": {"type": "bar", "size": 5.4, "clip": true, "fill": {"gradient": "linear", "x1": 0, "y1": 0, "x2": 0, "y2": 1, "stops": [{"offset": 0, "color": "#ff0000"}, {"offset": 0.25, "color": "#ffa500"}, {"offset": 0.5, "color": "#ffff00"}, {"offset": 0.7, "color": "#00ff00"}, {"offset": 1, "color": "#0a1ee6"}]}},
          "encoding": {
            "y": {"field": "p2", "type": "quantitative", "title": "First mode of variation",
              "scale": {"domain": [-14.65, 57.12], "nice": false, "zero": false},
              "axis": {"orient": "left", "values": [-10,-5,0,5,10,15,20,25,30,35,40,45,50,55], "tickSize": 5, "labelPadding": 3, "titlePadding": 4, "gridColor": "#e2e2e2"}
            },
            "y2": {"field": "m2"}
          }
        },
        {
          "data": {"name": "mode1"},
          "transform": [{"filter": "datum.p2 < datum.m2"}],
          "mark": {"type": "bar", "size": 5.4, "clip": true, "fill": {"gradient": "linear", "x1": 0, "y1": 0, "x2": 0, "y2": 1, "stops": [{"offset": 0, "color": "#0a1ee6"}, {"offset": 0.3, "color": "#00ff00"}, {"offset": 0.5, "color": "#ffff00"}, {"offset": 0.75, "color": "#ffa500"}, {"offset": 1, "color": "#ff0000"}]}},
          "encoding": {
            "y": {"field": "p2", "type": "quantitative",
              "axis": {"orient": "left", "values": [-12.5,-7.5,-2.5,2.5,7.5,12.5,17.5,22.5,27.5,32.5,37.5,42.5,47.5,52.5], "labels": false, "ticks": false, "domain": false, "title": null, "gridColor": "#efefef"}
            },
            "y2": {"field": "m2"}
          }
        },
        {
          "data": {"name": "mode1"},
          "transform": [{"fold": ["p2", "p1", "mu", "m2"], "as": ["level", "val"]}],
          "mark": {"type": "line", "interpolate": "monotone", "stroke": "#000000", "strokeWidth": 1.5, "clip": true},
          "encoding": {
            "y": {"field": "val", "type": "quantitative", "axis": null},
            "detail": {"field": "level", "type": "nominal"},
            "strokeDash": {"field": "level", "type": "nominal", "scale": {"domain": ["p2", "p1", "mu", "m2"], "range": [[5, 3], [7, 3, 1.5, 3], [1, 0], [5, 3]]}, "legend": null}
          }
        },
        {
          "data": {"name": "mode1"},
          "mark": {"type": "line", "interpolate": "monotone", "stroke": "#000000", "strokeWidth": 2.2, "strokeCap": "round", "strokeDash": [0.1, 5], "clip": true},
          "encoding": {
            "y": {"field": "m1", "type": "quantitative", "axis": null}
          }
        },
        {
          "data": {"name": "states"},
          "mark": {"type": "line", "interpolate": "monotone", "strokeWidth": 1.3, "clip": true},
          "encoding": {
            "y": {"field": "v", "type": "quantitative", "axis": null},
            "color": {"field": "state", "type": "nominal", "scale": {"domain": ["NY", "AZ", "ND"], "range": ["#a35c4e", "#2b8bb6", "#d2484b"]}, "legend": null}
          }
        },
        {
          "data": {"name": "labels"},
          "transform": [{"filter": "datum.panel == 'First' && datum.kind == 'state'"}],
          "mark": {"type": "text", "font": "Liberation Sans", "fontSize": 15.5},
          "encoding": {
            "y": {"field": "v", "type": "quantitative", "axis": null},
            "text": {"field": "label"},
            "color": {"field": "state", "type": "nominal", "legend": null}
          }
        },
        {
          "data": {"name": "labels"},
          "transform": [{"filter": "datum.panel == 'First' && datum.kind == 'sigma'"}],
          "mark": {"type": "text", "font": "Liberation Sans", "fontSize": 15.5, "fill": "#000000", "strokeWidth": 0, "strokeOpacity": 0},
          "encoding": {
            "y": {"field": "v", "type": "quantitative", "axis": null},
            "text": {"field": "label"},
            "stroke": {"field": "sigma", "type": "quantitative",
              "scale": {"domain": [-2, -0.8, 0, 1, 2], "range": ["#0a1ee6", "#00ff00", "#ffff00", "#ffa500", "#ff0000"]},
              "legend": {
                "title": "FPC Scores", "orient": "none", "legendX": 529, "legendY": 569, "direction": "horizontal",
                "gradientLength": 125, "gradientThickness": 24, "gradientStrokeWidth": 0,
                "titleOrient": "left", "titleFont": "Liberation Sans", "titleFontSize": 14, "titleFontWeight": "normal", "titleColor": "#1a1a1a", "titlePadding": 8, "titleAnchor": "middle", "titleBaseline": "middle",
                "labelFont": "Liberation Sans", "labelFontSize": 12.5, "labelColor": "#1a1a1a", "labelAlign": "center", "labelOffset": 7,
                "values": [-2, 0, 2],
                "labelExpr": "datum.value < 0 ? 'Negative' : (datum.value > 0 ? 'Positive' : '0')",
                "encode": {"labels": {"update": {"align": {"value": "center"}}}}
              }
            }
          }
        }
      ]
    },
    {
      "width": 623,
      "height": 486,
      "resolve": {"axis": {"y": "independent"}},
      "encoding": {
        "x": {
          "field": "d", "type": "temporal", "title": "Days",
          "scale": {"type": "utc", "domain": [{"year": 2020, "month": 3, "date": 1, "hours": 12, "utc": true}, {"year": 2020, "month": 10, "date": 31, "utc": true}]},
          "axis": {
            "values": [1583107200000,1583409600000,1583712000000,1584014400000,1584316800000,1584619200000,1584921600000,1585224000000,1585526400000,1585828800000,1586131200000,1586433600000,1586736000000,1587038400000,1587340800000,1587643200000,1587945600000,1588248000000,1588550400000,1588852800000,1589155200000,1589457600000,1589760000000,1590062400000,1590364800000,1590667200000,1590969600000,1591272000000,1591574400000,1591876800000,1592179200000,1592481600000,1592784000000,1593086400000,1593388800000,1593691200000,1593993600000,1594296000000,1594598400000,1594900800000,1595203200000,1595505600000,1595808000000,1596110400000,1596412800000,1596715200000,1597017600000,1597320000000,1597622400000,1597924800000,1598227200000,1598529600000,1598832000000,1599134400000,1599436800000,1599739200000,1600041600000,1600344000000,1600646400000,1600948800000,1601251200000,1601553600000,1601856000000,1602158400000,1602460800000,1602763200000,1603065600000,1603368000000,1603670400000,1603972800000],
            "labelExpr": "utchours(datum.value) == 12 ? '' : utcFormat(datum.value, '%m-%d')",
            "labelAngle": 270, "labelFontSize": 15, "labelPadding": 3,
            "tickSize": {"condition": {"test": "utchours(datum.value) == 12", "value": 0}, "value": 5},
            "gridColor": {"condition": {"test": "utchours(datum.value) == 12", "value": "#efefef"}, "value": "#e2e2e2"},
            "titlePadding": 4
          }
        }
      },
      "layer": [
        {
          "data": {"name": "mode2"},
          "transform": [{"filter": "datum.p2 >= datum.m2"}],
          "mark": {"type": "bar", "size": 5.4, "clip": true, "fill": {"gradient": "linear", "x1": 0, "y1": 0, "x2": 0, "y2": 1, "stops": [{"offset": 0, "color": "#ff0000"}, {"offset": 0.25, "color": "#ffa500"}, {"offset": 0.5, "color": "#ffff00"}, {"offset": 0.7, "color": "#00ff00"}, {"offset": 1, "color": "#0a1ee6"}]}},
          "encoding": {
            "y": {"field": "p2", "type": "quantitative", "title": "Second mode of variation",
              "scale": {"domain": [-4.95, 56.77], "nice": false, "zero": false},
              "axis": {"orient": "left", "values": [0,5,10,15,20,25,30,35,40,45,50,55], "tickSize": 5, "labelPadding": 3, "titlePadding": 4, "gridColor": "#e2e2e2"}
            },
            "y2": {"field": "m2"}
          }
        },
        {
          "data": {"name": "mode2"},
          "transform": [{"filter": "datum.p2 < datum.m2"}],
          "mark": {"type": "bar", "size": 5.4, "clip": true, "fill": {"gradient": "linear", "x1": 0, "y1": 0, "x2": 0, "y2": 1, "stops": [{"offset": 0, "color": "#0a1ee6"}, {"offset": 0.3, "color": "#00ff00"}, {"offset": 0.5, "color": "#ffff00"}, {"offset": 0.75, "color": "#ffa500"}, {"offset": 1, "color": "#ff0000"}]}},
          "encoding": {
            "y": {"field": "p2", "type": "quantitative",
              "axis": {"orient": "left", "values": [-2.5,2.5,7.5,12.5,17.5,22.5,27.5,32.5,37.5,42.5,47.5,52.5], "labels": false, "ticks": false, "domain": false, "title": null, "gridColor": "#efefef"}
            },
            "y2": {"field": "m2"}
          }
        },
        {
          "data": {"name": "mode2"},
          "transform": [{"fold": ["p2", "p1", "mu", "m2"], "as": ["level", "val"]}],
          "mark": {"type": "line", "interpolate": "monotone", "stroke": "#000000", "strokeWidth": 1.5, "clip": true},
          "encoding": {
            "y": {"field": "val", "type": "quantitative", "axis": null},
            "detail": {"field": "level", "type": "nominal"},
            "strokeDash": {"field": "level", "type": "nominal", "scale": {"domain": ["p2", "p1", "mu", "m2"], "range": [[5, 3], [7, 3, 1.5, 3], [1, 0], [5, 3]]}, "legend": null}
          }
        },
        {
          "data": {"name": "mode2"},
          "mark": {"type": "line", "interpolate": "monotone", "stroke": "#000000", "strokeWidth": 2.2, "strokeCap": "round", "strokeDash": [0.1, 5], "clip": true},
          "encoding": {
            "y": {"field": "m1", "type": "quantitative", "axis": null}
          }
        },
        {
          "data": {"name": "states"},
          "mark": {"type": "line", "interpolate": "monotone", "strokeWidth": 1.3, "clip": true},
          "encoding": {
            "y": {"field": "v", "type": "quantitative", "axis": null},
            "color": {"field": "state", "type": "nominal", "scale": {"domain": ["NY", "AZ", "ND"], "range": ["#a35c4e", "#2b8bb6", "#d2484b"]}, "legend": null}
          }
        },
        {
          "data": {"name": "labels"},
          "transform": [{"filter": "datum.panel == 'Second' && datum.kind == 'state'"}],
          "mark": {"type": "text", "font": "Liberation Sans", "fontSize": 15.5},
          "encoding": {
            "y": {"field": "v", "type": "quantitative", "axis": null},
            "text": {"field": "label"},
            "color": {"field": "state", "type": "nominal", "legend": null}
          }
        },
        {
          "data": {"name": "labels"},
          "transform": [{"filter": "datum.panel == 'Second' && datum.kind == 'sigma'"}],
          "mark": {"type": "text", "font": "Liberation Sans", "fontSize": 14.5, "fill": "#000000", "strokeWidth": 0, "strokeOpacity": 0},
          "encoding": {
            "y": {"field": "v", "type": "quantitative", "axis": null},
            "text": {"field": "label"},
            "stroke": {"field": "sigma", "type": "quantitative",
              "scale": {"domain": [-2, -0.8, 0, 1, 2], "range": ["#0a1ee6", "#00ff00", "#ffff00", "#ffa500", "#ff0000"]}}
          }
        }
      ]
    }
  ]
}
